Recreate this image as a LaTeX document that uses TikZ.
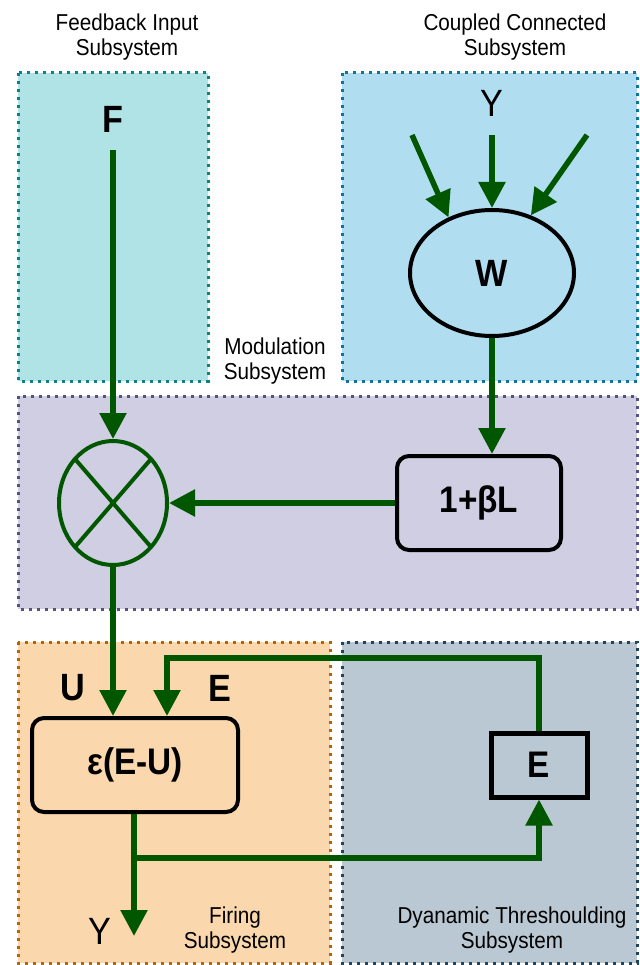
\documentclass[tikz,border=0pt]{standalone}
\usepackage{fontspec}
\setmainfont[FakeStretch=0.9]{Liberation Sans}
\usetikzlibrary{arrows.meta,shapes.geometric,calc}

\definecolor{tealfill}{HTML}{B0E3E6}
\definecolor{tealline}{HTML}{0E8088}
\definecolor{bluefill}{HTML}{B1DDF0}
\definecolor{blueline}{HTML}{10739E}
\definecolor{purplefill}{HTML}{D0CEE2}
\definecolor{purpleline}{HTML}{56517E}
\definecolor{orangefill}{HTML}{FAD7AC}
\definecolor{orangeline}{HTML}{B46504}
\definecolor{grayfill}{HTML}{BAC8D3}
\definecolor{grayline}{HTML}{23445D}
\definecolor{flowgreen}{HTML}{005700}

\tikzset{
  subsys/.style={line width=3pt, dash pattern=on 3pt off 5pt},
  flow/.style={draw=flowgreen, line width=5.5pt,
    -{Triangle[length=26pt,width=26pt]}},
  title/.style={font=\fontsize{23}{25}\selectfont, align=center, inner sep=0pt},
  sym/.style={font=\fontsize{38}{38}\selectfont, inner sep=0pt},
  lab/.style={font=\fontsize{38}{38}\selectfont\bfseries, inner sep=0pt},
  block/.style={draw=black, line width=4pt, rounded corners=12pt,
    font=\fontsize{37}{37}\selectfont\bfseries, inner sep=0pt},
}

\begin{document}
\begin{tikzpicture}[x=1pt,y=-1pt]
\useasboundingbox (0,0) rectangle (639,965);

% subsystem regions
\draw[subsys, draw=tealline, fill=tealfill] (18,73) rectangle (208,381);
\draw[subsys, draw=blueline, fill=bluefill] (342,73) rectangle (637,381);
\draw[subsys, draw=purpleline, fill=purplefill] (18,396) rectangle (637,609);
\draw[subsys, draw=orangeline, fill=orangefill] (18,642) rectangle (330,963);
\draw[subsys, draw=grayline, fill=grayfill] (342,642) rectangle (637,963);

% region titles
\node[title] (tfeed) at (127,37) {Feedback Input\\Subsystem};
\node[title] (tcoup) at (515,37) {Coupled Connected\\Subsystem};
\node[title] (tmod) at (275,361) {Modulation\\Subsystem};
\node[title] (tfire) at (235,930) {Firing\\Subsystem};
\node[title] (tthr) at (512,930) {Dyanamic Threshoulding\\Subsystem};

% blocks
\node[lab] (F) at (113,119) {F};
\node[sym] (Yin) at (492,103) {Y};
\node[draw=black, line width=4pt, ellipse, minimum width=164pt,
      minimum height=126pt, inner sep=0pt, lab] (W) at (492,273) {W};
\node[draw=flowgreen, line width=4pt, ellipse, minimum width=108pt,
      minimum height=124pt, inner sep=0pt] (mul) at (113,503) {};
\draw[flowgreen, line width=4pt]
  ([shift={(-38,-44)}]mul.center) -- ([shift={(38,44)}]mul.center)
  ([shift={(38,-44)}]mul.center) -- ([shift={(-38,44)}]mul.center);
\node[block, minimum width=164pt, minimum height=94pt] (beta) at (479,503) {1+βL};
\node[block, minimum width=206pt, minimum height=94pt] (eps) at (135,765) {ε(E-U)};
\node[block, rounded corners=0pt, line width=5pt, minimum width=96pt,
      minimum height=64pt] (Ebox) at (539,765) {E};

\node[lab] (U) at (73,688) {U};
\node[lab] (Elab) at (220,688) {E};
\node[sym] (Yout) at (100,931) {Y};

% free ends of the connectors
\coordinate (fstart) at (113,150);
\coordinate (inl) at (412,135);
\coordinate (inm) at (492,135);
\coordinate (inr) at (587,135);
\coordinate (etop) at (167,658);
\coordinate (branch) at (134,858);
\coordinate (yend) at (134,936);

% connectors
\draw[flow] (inl) -- (W.128);
\draw[flow] (inm) -- (W.north);
\draw[flow] (inr) -- (W.56);
\draw[flow] (W.south) -- (beta.north -| W.south);
\draw[flow] (fstart) -- (mul.north);
\draw[flow] (beta.west) -- (mul.east);
\draw[flow] (mul.south) -- (mul.south |- eps.north);
\draw[flow] (Ebox.north) |- (etop) -- (etop |- eps.north);
\draw[flow] (eps.south -| branch) -- (yend);
\draw[flow] (branch) -| (Ebox.south);
\end{tikzpicture}
\end{document}
